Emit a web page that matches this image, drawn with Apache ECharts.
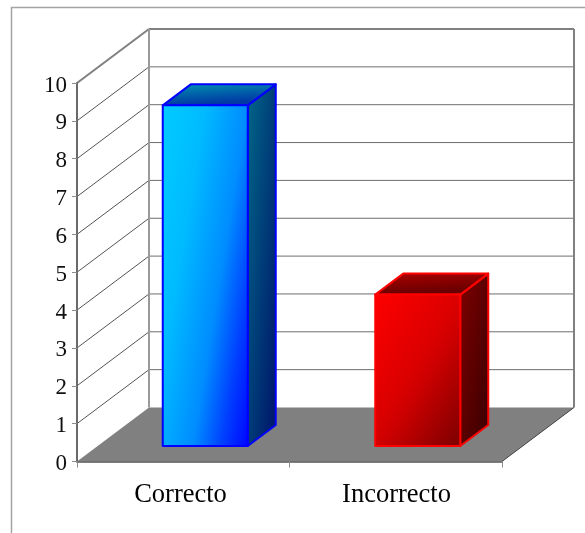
<!DOCTYPE html>
<html>
<head>
<meta charset="utf-8">
<style>html,body{margin:0;padding:0;background:#fff}#chart{width:585px;height:533px}</style>
<script src="https://cdn.jsdelivr.net/npm/echarts@6/dist/echarts.min.js"></script>
</head>
<body>
<div id="chart"></div>
<script>
const categories = ['Correcto', 'Incorrecto'];
const counts = [9, 4];
const valueTicks = [0, 1, 2, 3, 4, 5, 6, 7, 8, 9, 10];

// Pseudo-3D box geometry, in pixels
const ROOM_DX = 72, ROOM_DY = -54;      // depth of the room
const BAR_SHIFT_X = 22, BAR_SHIFT_Y = -15.5; // bar front face relative to the floor's front edge
const BAR_DX = 28, BAR_DY = -21;        // depth of a bar
const BAR_RATIO = 0.4;
const CATEGORY_LABEL_PADDING = [[0, 5.5, 0, 0], [0, 0, 0, 1.5]];

// Each gradient: end point of the vector (fractions of the face's box) and [offset, colour] stops
const palettes = [
  {
    edge: '#0000ff',
    front: { x2: 1.62, y2: 0.067, stops: [[0, '#00ccff'], [0.3, '#00bbff'], [0.6, '#008cff'], [0.8, '#0040ff'], [1, '#0000ff']] },
    side: { x2: 1.99, y2: 0.013, stops: [[0, '#006888'], [1, '#001068']] },
    top: { x2: 0.012, y2: 1, stops: [[0, '#0096b0'], [1, '#0038a4']] }
  },
  {
    edge: '#ff0000',
    front: { x2: 1.52, y2: 0.574, stops: [[0, '#ff0000'], [0.45, '#dc0000'], [0.55, '#d00000'], [1, '#780000']] },
    side: { x2: 1.93, y2: 0.057, stops: [[0, '#800000'], [1, '#380000']] },
    top: { x2: 0.012, y2: 1, stops: [[0, '#b00000'], [1, '#680000']] }
  }
];

function gradient(g) {
  return {
    type: 'linear', x: 0, y: 0, x2: g.x2, y2: g.y2,
    colorStops: g.stops.map(s => ({ offset: s[0], color: s[1] }))
  };
}

function line(x1, y1, x2, y2, stroke, width) {
  return { type: 'line', shape: { x1, y1, x2, y2 }, style: { stroke, lineWidth: width, fill: null } };
}

// One tick's gridlines: along the side wall, then across the back wall
function renderTick(params, api) {
  const v = api.value(0);
  const y = api.coord([0, v])[1];
  const sys = params.coordSys;
  const backX = sys.x + ROOM_DX, backY = y + ROOM_DY;
  const top = v === valueTicks[valueTicks.length - 1];
  const children = [];
  if (v !== valueTicks[0]) {
    children.push(line(sys.x, y, backX, backY, top ? '#808080' : '#555555', top ? 2 : 1));
    children.push(line(backX, backY, backX + sys.width, backY, top ? '#808080' : '#6e6e6e', top ? 2 : 1));
  }
  return { type: 'group', children };
}

// Back-wall uprights and the grey floor
function renderRoom(params) {
  const s = params.coordSys;
  const bottom = s.y + s.height;
  const bx = s.x + ROOM_DX, by = bottom + ROOM_DY, ty = s.y + ROOM_DY;
  return {
    type: 'group',
    children: [
      line(bx, ty, bx, by, '#9a9a9a', 2),
      line(bx + s.width, ty, bx + s.width, by, '#808080', 2),
      {
        type: 'polygon',
        shape: { points: [[s.x, bottom], [bx, by], [bx + s.width, by], [s.x + s.width, bottom]] },
        style: { fill: '#808080' }
      },
      line(s.x + s.width, bottom, bx + s.width, by, '#444444', 1)
    ]
  };
}

function renderBar(params, api) {
  const i = api.value(0);
  const base = api.coord([i, 0]);
  const head = api.coord([i, api.value(1)]);
  const w = api.size([1, 0])[0] * BAR_RATIO;
  const l = base[0] - w / 2 + BAR_SHIFT_X, r = l + w;
  const b = base[1] + BAR_SHIFT_Y, t = head[1] + BAR_SHIFT_Y;
  const p = palettes[i];
  const face = (points, g) => ({
    type: 'polygon',
    shape: { points },
    style: { fill: gradient(g), stroke: p.edge, lineWidth: 2, lineJoin: 'round' }
  });
  return {
    type: 'group',
    children: [
      face([[r, t], [r + BAR_DX, t + BAR_DY], [r + BAR_DX, b + BAR_DY], [r, b]], p.side),
      face([[l, t], [l + BAR_DX, t + BAR_DY], [r + BAR_DX, t + BAR_DY], [r, t]], p.top),
      face([[l, t], [r, t], [r, b], [l, b]], p.front)
    ]
  };
}

const chart = echarts.init(document.getElementById('chart'), null, { renderer: 'canvas' });
chart.setOption({
  animation: false,
  backgroundColor: '#ffffff',
  textStyle: { fontFamily: 'Liberation Serif' },
  graphic: [{
    type: 'rect',
    silent: true,
    shape: { x: 11.5, y: 7.5, width: 800, height: 800 },
    style: { fill: null, stroke: '#a3a3a3', lineWidth: 1.5 }
  }],
  grid: { left: 77, right: 83, top: 83, bottom: 71.5 },
  xAxis: {
    type: 'category',
    data: categories.map((name, i) => ({ value: name, textStyle: { padding: CATEGORY_LABEL_PADDING[i] } })),
    z: 5,
    axisLine: { lineStyle: { color: '#555555', width: 1.5 } },
    axisTick: { show: true, length: 6, alignWithLabel: false, lineStyle: { color: '#8c8c8c', width: 1 } },
    axisLabel: { color: '#000000', fontFamily: 'Liberation Serif', fontSize: 26.5, margin: 20 },
    splitLine: { show: false }
  },
  yAxis: {
    type: 'value',
    min: 0,
    max: 10,
    interval: 1,
    z: 5,
    axisLine: { show: true, lineStyle: { color: '#6a6a6a', width: 2 } },
    axisTick: { show: true, length: 5, lineStyle: { color: '#8c8c8c', width: 1 } },
    axisLabel: {
      margin: 10,
      formatter: '{n|{value}}',
      rich: { n: { color: '#111111', fontFamily: 'Liberation Serif', fontSize: 23, padding: [5, 0, 0, 0] } }
    },
    splitLine: { show: false }
  },
  series: [
    {
      type: 'custom', coordinateSystem: 'cartesian2d', clip: false, silent: true, z: 1,
      renderItem: renderTick, encode: { y: 0 }, data: valueTicks.map(v => [v])
    },
    {
      type: 'custom', coordinateSystem: 'cartesian2d', clip: false, silent: true, z: 2,
      renderItem: renderRoom, data: [[0]]
    },
    {
      type: 'custom', coordinateSystem: 'cartesian2d', clip: false, z: 3,
      renderItem: renderBar, encode: { x: 0, y: 1 }, data: counts.map((c, i) => [i, c])
    }
  ]
});
</script>
</body>
</html>
